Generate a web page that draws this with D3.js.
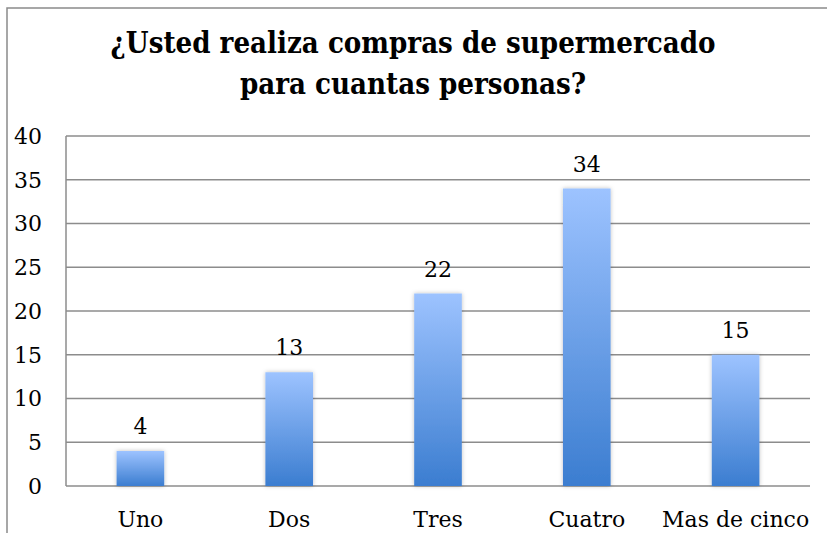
<!DOCTYPE html>
<html>
<head>
<meta charset="utf-8">
<script src="https://d3js.org/d3.v7.min.js"></script>
<style>
  body { margin: 0; background: #fff; }
  svg { display: block; }
  .tick-label, .cat-label, .val-label { font-family: "DejaVu Serif", serif; font-size: 22px; fill: #000; }
  .title { font-family: "DejaVu Serif Condensed", "DejaVu Serif", serif; font-weight: bold; font-size: 30px; fill: #000; }
</style>
</head>
<body>
<svg width="827" height="533"></svg>
<script>
  const categories = ["Uno", "Dos", "Tres", "Cuatro", "Mas de cinco"];
  const counts = [4, 13, 22, 34, 15];
  const yTicks = [0, 5, 10, 15, 20, 25, 30, 35, 40];
  const titleLines = ["¿Usted realiza compras de supermercado", "para cuantas personas?"];

  const width = 827, height = 533;
  const margin = { left: 66, right: 17, top: 136, bottom: 47 };

  const svg = d3.select("svg");

  // gradient + soft shadow for the bars
  const defs = svg.append("defs");
  const grad = defs.append("linearGradient")
      .attr("id", "barGrad").attr("x1", 0).attr("y1", 0).attr("x2", 0).attr("y2", 1);
  grad.append("stop").attr("offset", "0%").attr("stop-color", "#9dc3ff");
  grad.append("stop").attr("offset", "100%").attr("stop-color", "#3b7dd0");
  const shadow = defs.append("filter").attr("id", "shadow")
      .attr("x", "-20%").attr("y", "-10%").attr("width", "140%").attr("height", "120%");
  shadow.append("feDropShadow").attr("dx", 0).attr("dy", 0).attr("stdDeviation", 2)
      .attr("flood-color", "#000").attr("flood-opacity", 0.25);

  // outer chart frame (only left and top edges are visible)
  svg.append("rect")
      .attr("x", 7).attr("y", 8).attr("width", 840).attr("height", 560)
      .attr("fill", "none").attr("stroke", "#8a8a8a").attr("stroke-width", 1.5);

  // title
  const title = svg.append("g").selectAll("text")
    .data(titleLines)
    .enter().append("text")
      .attr("class", "title")
      .attr("x", 413)
      .attr("y", (d, i) => 53 + i * 41)
      .attr("text-anchor", "middle")
      .text(d => d);

  // scale title so the first line is ~605px wide like the original
  const w0 = title.node().getComputedTextLength();
  title.style("font-size", (30 * 605 / w0) + "px");

  const x = d3.scaleBand()
      .domain(categories)
      .range([margin.left, width - margin.right])
      .paddingInner(0.68).paddingOuter(0.34);

  const y = d3.scaleLinear()
      .domain([0, 40])
      .range([height - margin.bottom, margin.top]);

  // gridlines
  svg.append("g").selectAll("line")
    .data(yTicks)
    .enter().append("line")
      .attr("x1", margin.left).attr("x2", width - margin.right)
      .attr("y1", d => y(d)).attr("y2", d => y(d))
      .attr("stroke", "#8c8c8c").attr("stroke-width", 1.5);

  // y axis line
  svg.append("line")
      .attr("x1", margin.left).attr("x2", margin.left)
      .attr("y1", y(40)).attr("y2", y(0))
      .attr("stroke", "#8c8c8c").attr("stroke-width", 1.5);

  // y tick labels
  svg.append("g").selectAll("text")
    .data(yTicks)
    .enter().append("text")
      .attr("class", "tick-label")
      .attr("x", 42)
      .attr("y", d => y(d))
      .attr("dy", "0.36em")
      .attr("text-anchor", "end")
      .text(d => d);

  // bars
  svg.append("g").selectAll("rect")
    .data(counts)
    .enter().append("rect")
      .attr("x", (d, i) => x(categories[i]))
      .attr("y", d => y(d))
      .attr("width", x.bandwidth())
      .attr("height", d => y(0) - y(d))
      .attr("fill", "url(#barGrad)")
      .attr("filter", "url(#shadow)");

  // value labels
  svg.append("g").selectAll("text")
    .data(counts)
    .enter().append("text")
      .attr("class", "val-label")
      .attr("x", (d, i) => x(categories[i]) + x.bandwidth() / 2)
      .attr("y", d => y(d) - 17)
      .attr("text-anchor", "middle")
      .text(d => d);

  // category labels
  svg.append("g").selectAll("text")
    .data(categories)
    .enter().append("text")
      .attr("class", "cat-label")
      .attr("x", d => x(d) + x.bandwidth() / 2)
      .attr("y", 527)
      .attr("text-anchor", "middle")
      .text(d => d);
</script>
</body>
</html>
